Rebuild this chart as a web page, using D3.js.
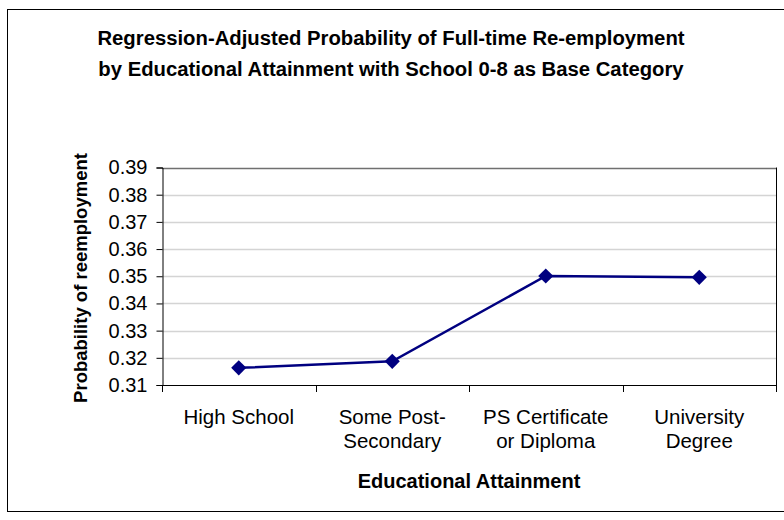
<!DOCTYPE html>
<html>
<head>
<meta charset="utf-8">
<script src="https://cdn.jsdelivr.net/npm/d3@7"></script>
<style>
  html, body { margin: 0; padding: 0; background: #fff; }
  svg { display: block; font-family: "Liberation Sans", Arial, sans-serif; }
</style>
</head>
<body>
<svg id="chart" width="784" height="520"></svg>
<script>
// Education categories (two-line labels) and adjusted probabilities
const categories = ["High School", "Some Post-Secondary", "PS Certificate or Diploma", "University Degree"];
const categoryLines = [["High School"], ["Some Post-", "Secondary"], ["PS Certificate", "or Diploma"], ["University", "Degree"]];
const probabilities = [0.3163, 0.3187, 0.3501, 0.3496];
const yTicks = [0.31, 0.32, 0.33, 0.34, 0.35, 0.36, 0.37, 0.38, 0.39];
const titleLines = [
  "Regression-Adjusted Probability of Full-time Re-employment",
  "by Educational Attainment with School 0-8 as Base Category"
];

const svg = d3.select("#chart");
const plot = { left: 162, right: 776, top: 167.5, bottom: 385 };

// outer chart frame
svg.append("rect")
  .attr("x", 7.5).attr("y", 9.5).attr("width", 790).attr("height", 502)
  .attr("fill", "#fff").attr("stroke", "#000").attr("stroke-width", 1);

const x = d3.scaleBand().domain(categories).range([plot.left, plot.right]).padding(0);
const y = d3.scaleLinear().domain([0.31, 0.39]).range([plot.bottom, plot.top]);

// horizontal gridlines
svg.append("g").selectAll("line")
  .data(yTicks.slice(1))
  .join("line")
  .attr("x1", plot.left).attr("x2", plot.right)
  .attr("y1", d => Math.round(y(d)) + 0.5).attr("y2", d => Math.round(y(d)) + 0.5)
  .attr("stroke", (d, i, a) => i === a.length - 1 ? "#707070" : "#d4d4d4")
  .attr("stroke-width", 1.5);

// right edge of plot area
svg.append("line")
  .attr("x1", plot.right + 0.5).attr("x2", plot.right + 0.5)
  .attr("y1", plot.top).attr("y2", plot.bottom)
  .attr("stroke", "#000");

// y axis
const yAxis = svg.append("g")
  .attr("transform", `translate(${plot.left + 0.5},0)`)
  .call(d3.axisLeft(y).tickValues(yTicks).tickFormat(d3.format(".2f")).tickSize(6).tickPadding(9));
yAxis.select(".domain").attr("stroke", "#000");
yAxis.selectAll(".tick line").attr("stroke", "#000");
yAxis.selectAll("text").attr("font-size", 20).attr("fill", "#000")
  .attr("font-family", "Liberation Sans, Arial, sans-serif");

// x axis: ticks at category boundaries
const xBounds = categories.map(c => x(c)).concat([plot.right]);
const xAxisG = svg.append("g");
xAxisG.append("line")
  .attr("x1", plot.left).attr("x2", plot.right + 1)
  .attr("y1", plot.bottom + 0.5).attr("y2", plot.bottom + 0.5)
  .attr("stroke", "#000");
xAxisG.selectAll("line.tk")
  .data(xBounds)
  .join("line")
  .attr("class", "tk")
  .attr("x1", d => Math.round(d) + 0.5).attr("x2", d => Math.round(d) + 0.5)
  .attr("y1", plot.bottom).attr("y2", plot.bottom + 7)
  .attr("stroke", "#000");

// category labels
const lab = svg.append("g").selectAll("text")
  .data(categories)
  .join("text")
  .attr("x", d => x(d) + x.bandwidth() / 2)
  .attr("y", 424)
  .attr("text-anchor", "middle")
  .attr("font-size", 20.5)
  .attr("fill", "#000");
lab.selectAll("tspan")
  .data((d, i) => categoryLines[i])
  .join("tspan")
  .attr("x", function() { return d3.select(this.parentNode).attr("x"); })
  .attr("dy", (d, i) => i === 0 ? 0 : 24)
  .text(d => d);

// series line and diamond markers
const series = categories.map((c, i) => ({ c, v: probabilities[i] }));
const line = d3.line().x(d => x(d.c) + x.bandwidth() / 2).y(d => y(d.v));
svg.append("path")
  .datum(series)
  .attr("d", line)
  .attr("fill", "none")
  .attr("stroke", "#000080")
  .attr("stroke-width", 2.5);

const diamond = d3.symbol().type(d3.symbolSquare).size(115);
svg.append("g").selectAll("path")
  .data(series)
  .join("path")
  .attr("transform", d => `translate(${x(d.c) + x.bandwidth() / 2},${y(d.v)}) rotate(45)`)
  .attr("d", diamond)
  .attr("fill", "#000080");

// titles
svg.append("g").selectAll("text")
  .data(titleLines)
  .join("text")
  .attr("x", 391)
  .attr("y", (d, i) => 45 + i * 31)
  .attr("text-anchor", "middle")
  .attr("font-size", 20.3)
  .attr("font-weight", "bold")
  .text(d => d);

svg.append("text")
  .attr("x", 469).attr("y", 488)
  .attr("text-anchor", "middle")
  .attr("font-size", 20)
  .attr("font-weight", "bold")
  .text("Educational Attainment");

svg.append("text")
  .attr("transform", "translate(87,278) rotate(-90)")
  .attr("text-anchor", "middle")
  .attr("font-size", 18.5)
  .attr("font-weight", "bold")
  .text("Probability of reemployment");
</script>
</body>
</html>
